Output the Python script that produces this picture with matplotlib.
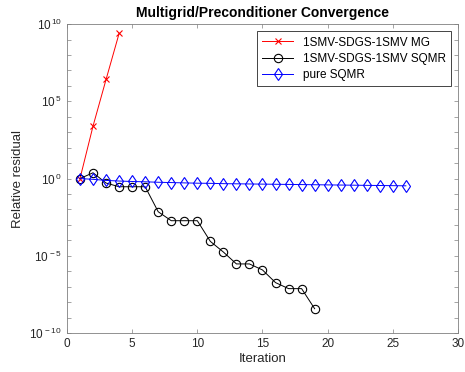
import matplotlib
matplotlib.use("Agg")
import matplotlib.pyplot as plt
import numpy as np
from matplotlib.ticker import FixedLocator, FuncFormatter

plt.rcParams['font.family'] = ['Liberation Sans', 'DejaVu Sans']
plt.rcParams['mathtext.fontset'] = 'custom'
plt.rcParams['mathtext.rm'] = 'Liberation Sans'
plt.rcParams['mathtext.it'] = 'Liberation Sans'
plt.rcParams['mathtext.default'] = 'regular'

mg_iter = [1, 2, 3, 4]
mg_log = [0.0, 3.4, 6.42, 9.4]

sqmr_iter = list(range(1, 20))
sqmr_log = [0.0, 0.375, -0.29, -0.53, -0.53, -0.53, -2.15, -2.73, -2.73, -2.73,
            -4.07, -4.76, -5.53, -5.53, -5.92, -6.74, -7.13, -7.13, -8.43]

pure_iter = list(range(1, 27))
pure_log = [0.0, -0.05, -0.12, -0.16, -0.19, -0.21, -0.24, -0.26, -0.28, -0.3,
            -0.31, -0.33, -0.34, -0.35, -0.36, -0.37, -0.38, -0.39, -0.4, -0.41,
            -0.42, -0.43, -0.44, -0.45, -0.46, -0.47]

labels = ['1SMV-SDGS-1SMV MG', '1SMV-SDGS-1SMV SQMR', 'pure SQMR']
x_ticks = [0, 5, 10, 15, 20, 25, 30]

fig = plt.figure(figsize=(4.65, 3.72), dpi=100)
ax = fig.add_axes([0.144, 0.105, 0.841, 0.83])

ax.semilogy(mg_iter, 10.0 ** np.array(mg_log), color='red', marker='x', lw=0.7,
            ms=5, mew=0.8, label=labels[0])
ax.semilogy(sqmr_iter, 10.0 ** np.array(sqmr_log), color='black', marker='o', lw=0.7,
            ms=6, mfc='none', mew=0.8, label=labels[1])
ax.semilogy(pure_iter, 10.0 ** np.array(pure_log), color='blue', marker='d', lw=0.7,
            ms=6.5, mfc='none', mew=0.8, label=labels[2])

ax.set_xlim(0, 30)
ax.set_ylim(1e-10, 1e10)
ax.set_xticks(x_ticks)
ax.yaxis.set_major_locator(FixedLocator([10.0 ** k for k in range(-10, 11)]))
ax.yaxis.set_minor_locator(FixedLocator([]))

def yfmt(v, pos):
    e = int(round(np.log10(v)))
    if e % 5 == 0:
        return r'$10^{\,%d}$' % e
    return ''

ax.yaxis.set_major_formatter(FuncFormatter(yfmt))

gray = '#262626'
for s in ax.spines.values():
    s.set_color('#808080')
    s.set_linewidth(0.6)
ax.tick_params(axis='both', which='both', direction='in', top=True, right=True,
               length=3, width=0.5, color='#808080', labelsize=8.5, labelcolor=gray)

ax.set_xlabel('Iteration', fontsize=9.5, color=gray, labelpad=2)
ax.set_ylabel('Relative residual', fontsize=9.5, color=gray, labelpad=4)
ax.set_title('Multigrid/Preconditioner Convergence', fontsize=10, fontweight='bold', pad=5)

leg = ax.legend(loc='upper right', fontsize=8.5, fancybox=False, framealpha=1,
                edgecolor='#262626', borderaxespad=0.6, handlelength=2.6,
                labelspacing=0.35, borderpad=0.45)
leg.get_frame().set_linewidth(0.6)

fig.savefig('out.png', dpi=100)
